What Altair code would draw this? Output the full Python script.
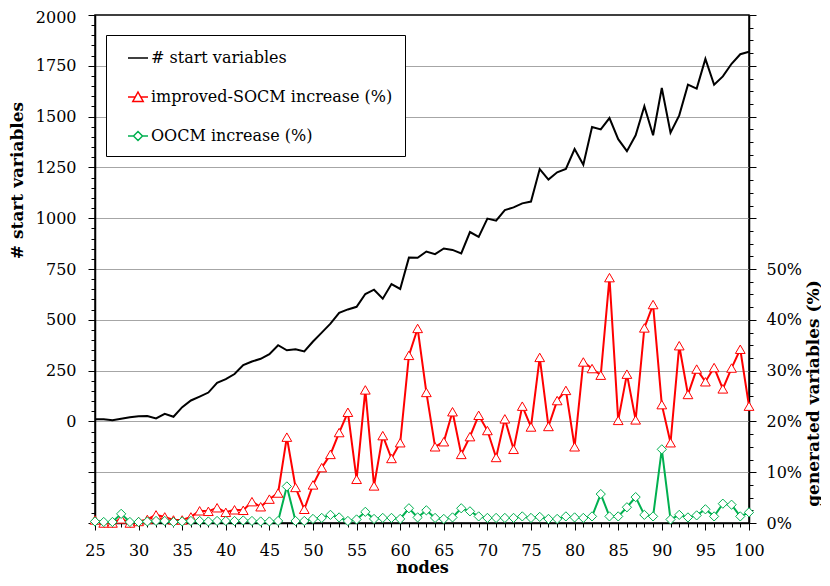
import altair as alt
import pandas as pd

nodes = list(range(25, 101))
start_vars = [10, 11, 6, 13, 20, 25, 26, 15, 37, 23,
              70, 103, 122, 142, 190, 208, 233, 277, 295, 308,
              331, 375, 350, 355, 344, 393, 437, 481, 534, 551,
              564, 627, 648, 604, 676, 652, 806, 805, 836, 823,
              851, 844, 827, 932, 908, 998, 988, 1040, 1053, 1073,
              1082, 1242, 1190, 1226, 1242, 1340, 1263, 1449, 1437, 1493,
              1389, 1330, 1408, 1551, 1408, 1641, 1421, 1506, 1657, 1638,
              1784, 1657, 1698, 1760, 1807, 1819]
socm_pct = [0.6, 0, 0, 0.8, 0, 0.3, 0.7, 1.6, 1.2, 0.6,
            0.6, 1.2, 2.4, 2.3, 3.0, 2.1, 2.6, 2.5, 4.2, 3.2,
            4.7, 5.9, 16.9, 7.0, 2.7, 7.5, 10.9, 13.5, 17.8, 21.8,
            8.6, 26.2, 7.3, 17.2, 12.7, 15.8, 33.0, 38.3, 25.7, 15.0,
            16.0, 21.9, 13.5, 17.0, 21.2, 18.2, 12.9, 20.5, 14.5, 23.0,
            18.9, 32.6, 19.0, 24.1, 26.1, 15.0, 31.7, 30.4, 29.1, 48.3,
            20.2, 29.3, 20.3, 38.4, 43.0, 23.3, 15.8, 34.9, 25.3, 30.3,
            27.8, 30.6, 26.4, 30.5, 34.2, 23.0]
oocm_pct = [0.3, 0.2, 0.2, 1.8, 0.2, 0.2, 0.3, 0.4, 0.4, 0.2,
            0.3, 0.4, 0.4, 0.3, 0.4, 0.4, 0.4, 0.5, 0.4, 0.3,
            0.3, 0.4, 7.2, 0.4, 0.4, 0.8, 1.0, 1.6, 1.1, 0.4,
            0.7, 2.2, 0.8, 1.0, 1.0, 0.8, 2.9, 1.1, 2.5, 1.0,
            0.8, 1.1, 2.9, 2.3, 1.3, 1.0, 1.0, 1.0, 1.0, 1.3,
            1.0, 1.2, 0.8, 0.8, 1.3, 1.1, 1.0, 1.3, 5.7, 1.3,
            1.3, 3.1, 5.1, 1.6, 1.3, 14.5, 0.7, 1.6, 1.1, 1.5,
            2.7, 1.3, 3.8, 3.6, 1.3, 2.1]

series_names = ["# start variables", "improved-SOCM increase (%)", "OOCM increase (%)"]
series_colors = ["#000000", "#FF0000", "#00B050"]
legend_shapes = [
    "M-1,0H1",
    "M-1,0H-0.27M0.27,0H1M0,-0.5L0.52,0.45L-0.52,0.45Z",
    "M-1,0H-0.45M0.45,0H1M0,-0.45L0.45,0L0,0.45L-0.45,0Z",
]

x_tick_values = list(range(25, 101))
left_tick_values = list(range(-500, 2001, 50))
right_tick_values = [i * 2.5 for i in range(41)]

FONT = "DejaVu Serif"

df = pd.DataFrame({"nodes": nodes, "start": start_vars, "socm": socm_pct, "oocm": oocm_pct})

x_enc = alt.X(
    "nodes:Q",
    scale=alt.Scale(domain=[25, 100], nice=False, zero=False),
    axis=alt.Axis(
        values=x_tick_values,
        labelExpr="datum.value % 5 === 0 ? datum.label : ''",
        tickSize={"condition": {"test": "datum.value % 5 === 0", "value": 7}, "value": 4},
        labelFlush=False,
        labelOverlap=False,
        grid=False,
        title="nodes",
        titleY=44,
        titleFontSize=16,
        titleBaseline="middle",
        labelPadding=12,
    ),
)

left_y = alt.Y(
    "start:Q",
    scale=alt.Scale(domain=[-500, 2000], nice=False, zero=False),
    axis=alt.Axis(
        values=left_tick_values,
        labelExpr="datum.value >= 0 && datum.value % 250 === 0 ? format(datum.value, 'd') : ''",
        tickSize={"condition": {"test": "datum.value % 250 === 0", "value": 7}, "value": 4},
        labelOffset={"condition": {"test": "datum.value === 2000", "value": 2}, "value": 0},
        labelFlush=False,
        labelOverlap=False,
        grid=True,
        gridColor="#A6A6A6",
        gridWidth=1,
        gridOpacity={"condition": {"test": "datum.value % 250 === 0 && datum.value > -500 && datum.value < 2000", "value": 1}, "value": 0},
        title="# start variables",
        titleAngle=270,
        titleX=-78,
        titleY=165,
        titleBaseline="middle",
        labelPadding=12,
    ),
)

right_axis = alt.Axis(
    orient="right",
    values=right_tick_values,
    labelExpr="datum.value % 10 === 0 && datum.value <= 50 ? datum.value + '%' : ''",
    tickSize={"condition": {"test": "datum.value % 10 === 0", "value": 7}, "value": 4},
    labelFlush=False,
    labelOverlap=False,
    grid=False,
    title="generated variables (%)",
    titleAngle=270,
    titleX=64,
    titleY=378,
    titleBaseline="middle",
    labelPadding=10,
)
pct_scale = alt.Scale(domain=[0, 100], nice=False, zero=False)

base = alt.Chart(df)

black_line = base.mark_line(color="#000000", strokeWidth=2).encode(x=x_enc, y=left_y)

red_line = base.mark_line(color="#FF0000", strokeWidth=2).encode(
    x=x_enc, y=alt.Y("socm:Q", scale=pct_scale, axis=right_axis))
red_pts = base.mark_point(shape="triangle-up", filled=True, fill="white", stroke="#FF0000",
                          strokeWidth=1, size=95, opacity=1).encode(
    x=x_enc, y=alt.Y("socm:Q", scale=pct_scale, axis=right_axis))
green_line = base.mark_line(color="#00B050", strokeWidth=2).encode(
    x=x_enc, y=alt.Y("oocm:Q", scale=pct_scale, axis=right_axis))
green_pts = base.mark_point(shape="diamond", filled=True, fill="white", stroke="#00B050",
                            strokeWidth=1, size=85, opacity=1).encode(
    x=x_enc, y=alt.Y("oocm:Q", scale=pct_scale, axis=right_axis))

leg = alt.Legend(
    orient="none", legendX=11, legendY=20, title=None,
    padding=12, rowPadding=20, symbolOffset=9, labelOffset=2,
    labelFont=FONT, labelFontSize=16, labelLimit=400, labelColor="#000000",
    symbolSize=400, symbolStrokeWidth=1.5,
    fillColor="white", strokeColor="#000000",
)
legend_layer = base.transform_filter("false").transform_calculate(series="'x'").mark_point(
    filled=False, opacity=1).encode(
    x=x_enc,
    y=alt.Y("socm:Q", scale=pct_scale, axis=right_axis),
    color=alt.Color("series:N", scale=alt.Scale(domain=series_names, range=series_colors), legend=leg),
    shape=alt.Shape("series:N", scale=alt.Scale(domain=series_names, range=legend_shapes), legend=leg),
)

right_group = alt.layer(red_line, red_pts, green_line, green_pts, legend_layer)

chart = alt.layer(black_line, right_group).resolve_scale(y="independent").properties(
    width=654, height=508,
    autosize=alt.AutoSizeParams(type="none"),
    padding={"left": 87, "top": 7, "right": 72, "bottom": 54},
).configure_view(
    stroke="#000000", strokeWidth=1.5
).configure_axis(
    domainColor="#000000", domainWidth=1.5, tickColor="#000000", tickWidth=1,
    labelFont=FONT, labelFontSize=16, labelColor="#000000",
    titleFont=FONT, titleFontSize=17, titleFontWeight="bold", titleColor="#000000",
)

chart.save("out.html", embed_options={"renderer": "svg", "actions": False})
